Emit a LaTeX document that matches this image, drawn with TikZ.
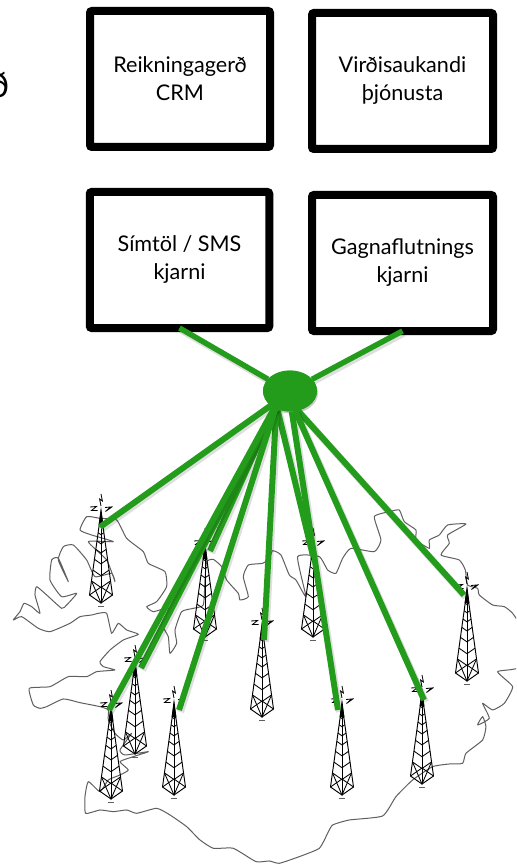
\documentclass[tikz,border=0pt]{standalone}
\usepackage{fontspec}
\setmainfont{Lato}
\usetikzlibrary{calc, positioning}
\usetikzlibrary{shadows}
\usepgflibrary{shapes.geometric}
\definecolor{linkgreen}{RGB}{35,155,27}
\definecolor{coast}{RGB}{95,95,95}
\def\bw{180}
\def\bh{136}
\tikzset{
    border/.style = {
        draw=black, fill=white, rectangle, minimum width=\bw, minimum height=\bh, line width=8pt,
        rounded corners=2pt, align=center, inner sep=0pt, outer sep=0pt,
        font=\fontsize{21.6}{28}\selectfont,
        execute at begin node={\rule{0pt}{20pt}},
        drop shadow={shadow xshift=0pt, shadow yshift=-3pt, fill=black, opacity=.22}
    },
    link/.style = {
        draw=linkgreen, line width=6pt,
        preaction={draw=black, opacity=.13, line width=7pt, transform canvas={xshift=1.5pt, yshift=-2pt}}
    },
    Tower/.pic = {
        \draw[line width=.95pt] (-11.5,101) -- (0,18) -- (11.5,101) -- (0,109) -- cycle;
        \draw[line width=.95pt] (0,18) -- (0,109);
        \foreach \t in {.16,.25,.35,.45,.57,.70,.83}{
            \draw[line width=.85pt] ({-11.5*\t},{18+83*\t}) -- (0,{18+91*\t}) -- ({11.5*\t},{18+83*\t});
        }
        \draw[line width=.85pt] (-11.5,101) -- (0,93) -- (11.5,101);
        \draw[line width=.85pt] (-9.5,87) -- (0,109) -- (9.5,87);
        \fill (0,13) -- (2.4,31) -- (-2.4,31) -- cycle;
        % antenna marks
        \draw[line width=.85pt] (0,0) -- (1.4,7) -- (-1.4,5) -- (0,12);
        \draw[line width=.85pt] (-11,13) -- (-4.5,12.5) -- (-9.5,16.5) -- (-3.5,16.5);
        \draw[line width=.85pt] (4,13.5) -- (9.5,13) -- (4.5,17.5) -- (11.5,12.5);
        \draw[coast, line width=.5pt] (-3,112) -- (3,112);
    },
}

\begin{document}
\begin{tikzpicture}[x=1pt, y=-1pt]
        \useasboundingbox (0,0) rectangle (516,866);
        \clip (0,0) rectangle (516,866);
        \fill[white] (0,0) rectangle (516,866);

        % Place the coast line
        \begin{scope}[shift={(0,480)}, x=.3333pt, y=-.3333pt]
            \draw[coast, line width=1pt, line join=round] plot[smooth cycle, tension=.3] coordinates {
                (415,463) (380,450) (355,430) (335,460) (320,400) (295,400) (275,405) (240,410) (210,430) (150,455)
                (115,445) (65,410) (40,420) (60,395) (72,370) (95,380) (120,400) (105,345) (110,320) (140,345)
                (185,385) (200,375) (230,340) (185,350) (150,300) (155,240) (175,235) (205,305) (175,240) (190,200)
                (220,195) (260,240) (285,290) (335,280) (345,305) (320,240) (265,185) (340,185) (275,165) (240,150)
                (260,110) (300,115) (350,120) (380,175) (430,215) (445,250) (495,275) (500,320) (470,365) (440,380)
                (460,395) (505,385) (490,440) (505,470) (510,520) (530,490) (525,450) (545,395) (580,385) (610,375)
                (615,300) (620,245) (640,238) (665,260) (680,300) (715,340) (720,360) (745,350) (730,290) (745,255)
                (788,250) (808,235) (818,212) (843,225) (868,285) (888,300) (918,350) (893,230) (958,230) (983,270)
                (1008,280) (1028,235) (1053,205) (1123,215) (1143,180) (1123,110) (1168,95) (1198,90) (1213,125) (1248,150)
                (1248,180) (1288,205) (1288,180) (1318,165) (1343,135) (1398,132) (1343,165) (1348,190) (1323,225) (1378,240)
                (1396,270) (1403,315) (1433,325) (1438,345) (1478,375) (1513,380) (1538,400) (1560,440) (1560,560) (1493,575)
                (1538,620) (1513,670) (1478,690) (1448,670) (1468,715) (1433,735) (1448,710) (1458,740) (1448,780) (1398,820)
                (1388,850) (1348,852) (1298,860) (1238,900) (1188,950) (1148,1008) (1048,1020) (998,1035) (983,1060) (958,1105)
                (898,1130) (838,1150) (808,1143) (768,1145) (700,1105) (640,1105) (600,1080) (560,1040) (510,1005) (470,985)
                (410,1000) (380,990) (340,995) (300,990) (257,1000) (255,950) (265,905) (300,935) (325,900) (360,885)
                (385,870) (360,845) (400,830) (445,815) (375,825) (360,810) (395,760) (370,780) (345,760) (325,720)
                (325,690) (300,680) (240,668) (190,657) (140,680) (120,685) (100,675) (88,625) (150,620) (205,590)
                (260,590) (290,575) (345,570) (310,560) (300,545) (330,510) (370,480)
            };
        \end{scope}

        % Place the blocks
        \node[anchor=center, font=\fontsize{36}{36}\selectfont] (cut) at (-1,85) {ð};
        \node[border] (crm) at (180,79) {Reikningagerð\\CRM};
        \node[border, minimum width=181] (vas) at (402.5,81) {Virðisaukandi\\þjónusta};
        \node[border, minimum width=179.5] (sms) at (179.5,260) {Símtöl / SMS\\kjarni};
        \node[border, minimum width=181] (data) at (402.5,263) {Gagnaflutnings\\kjarni};
        \node[ellipse, fill=linkgreen, minimum width=54, minimum height=41, inner sep=0pt, outer sep=0pt,
            drop shadow={shadow xshift=1pt, shadow yshift=-2pt, fill=black, opacity=.2}] (hub) at (290,391) {};

        % Draw connections
        \draw[link, line width=5.5pt] (sms.south) -- (hub.152);
        \draw[link, line width=5.5pt] (data.south) -- (hub.28);

        % Place the towers and feed them
        \foreach \name/\x/\y/\ex/\ey/\ang in {
            west/101/494/100/527/217,
            north/205/528/210/551/228,
            skagi/313/528/313/556/235,
            east/467/572/464/595/292,
            mid/262/608/264/640/232,
            bay/135/645/141/668/228,
            cape/111/690/109/710/227,
            south/174/686/179/710/230,
            inland/342/686/338/710/275,
            coastal/422/675/424/700/285}{
            \pic (\name) at (\x,\y) {Tower};
            \coordinate (\name-feed) at (\ex,\ey);
            \draw[link] (hub.\ang) -- (\name-feed);
        }
        \fill[linkgreen] (hub.center) ellipse [x radius=27, y radius=20.5];
    \end{tikzpicture}
\end{document}
